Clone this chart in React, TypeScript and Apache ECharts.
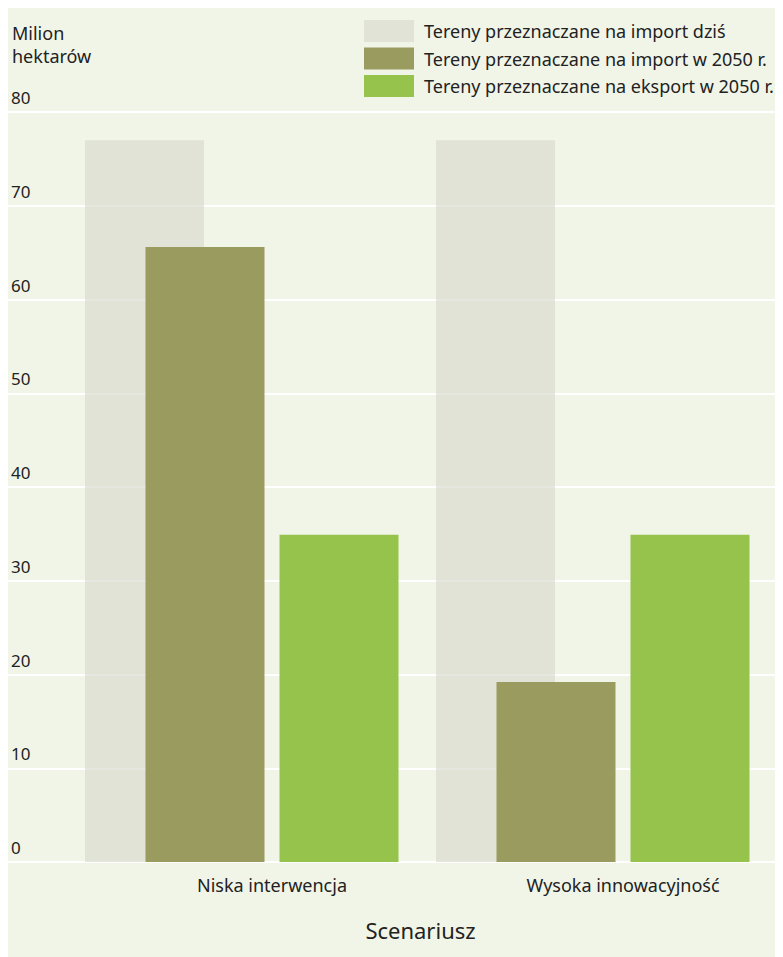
import React, { useEffect, useRef } from "react";
import * as echarts from "echarts";

const categories = ["Niska interwencja", "Wysoka innowacyjność"];
const seriesNames = [
  "Tereny przeznaczane na import dziś",
  "Tereny przeznaczane na import w 2050 r.",
  "Tereny przeznaczane na eksport w 2050 r.",
];
const importToday = [77, 77];
const import2050 = [65.6, 19.2];
const export2050 = [34.9, 34.9];
const yTicks = { min: 0, max: 80, interval: 10 };

const FONT = "Noto Sans";
const TXT = "#222222";
const BAR_W = 119;
const GRAY_SHIFT = 127.5;

export default function App() {
  const ref = useRef<HTMLDivElement>(null);
  useEffect(() => {
    if (!ref.current) return;
    const chart = echarts.init(ref.current, undefined, { renderer: "svg" });
    chart.setOption({
      animation: false,
      backgroundColor: "#f1f5e8",
      textStyle: { fontFamily: FONT, color: TXT },
      legend: {
        data: seriesNames,
        orient: "vertical",
        left: 356,
        top: 12,
        padding: 0,
        itemWidth: 50,
        itemHeight: 22,
        itemGap: 5.5,
        icon: "rect",
        textStyle: { fontSize: 18, color: TXT, fontFamily: FONT, padding: [0, 0, 0, 5] },
      },
      graphic: [
        {
          type: "text",
          left: 4,
          top: 13,
          style: {
            text: "Milion\nhektarów",
            fontSize: 18,
            lineHeight: 23,
            fill: TXT,
            fontFamily: FONT,
          },
        },
        {
          type: "text",
          x: 412.5,
          y: 922,
          style: {
            text: "Scenariusz",
            fontSize: 22,
            fill: TXT,
            fontFamily: FONT,
            align: "center",
            verticalAlign: "middle",
          },
        },
      ],
      grid: [
        { left: 0, right: 25, top: 104, bottom: 95 },
        { left: 88.5, width: 702, top: 104, bottom: 95 },
      ],
      xAxis: [
        { gridIndex: 0, type: "value", show: false },
        {
          gridIndex: 1,
          type: "category",
          data: categories,
          axisLine: { show: false },
          axisTick: { show: false },
          axisLabel: { fontSize: 18, color: TXT, fontFamily: FONT, margin: 14 },
        },
      ],
      yAxis: [
        {
          gridIndex: 0,
          type: "value",
          min: yTicks.min,
          max: yTicks.max,
          interval: yTicks.interval,
          axisLine: { show: false },
          axisTick: { show: false },
          splitLine: { lineStyle: { color: "#ffffff", width: 2 } },
          axisLabel: {
            inside: true,
            align: "left",
            verticalAlign: "bottom",
            margin: 3,
            padding: [0, 0, 6, 0],
            fontSize: 17,
            color: TXT,
            fontFamily: FONT,
          },
        },
        {
          gridIndex: 1,
          type: "value",
          min: yTicks.min,
          max: yTicks.max,
          interval: yTicks.interval,
          show: false,
          splitLine: { show: false },
        },
      ],
      series: [
        {
          name: seriesNames[0],
          type: "custom",
          xAxisIndex: 1,
          yAxisIndex: 1,
          data: importToday.map((v, i) => [i, v]),
          z: 1,
          itemStyle: { color: "rgba(213,215,202,0.6)" },
          renderItem: (params: any, api: any) => {
            const top = api.coord([api.value(0), api.value(1)]);
            const base = api.coord([api.value(0), 0]);
            return {
              type: "rect",
              shape: {
                x: top[0] - GRAY_SHIFT - BAR_W / 2,
                y: top[1],
                width: BAR_W,
                height: base[1] - top[1],
              },
              style: { fill: "rgba(213,215,202,0.6)" },
            };
          },
        },
        {
          name: seriesNames[1],
          type: "bar",
          xAxisIndex: 1,
          yAxisIndex: 1,
          data: import2050,
          barWidth: BAR_W,
          barGap: "12.6%",
          z: 3,
          itemStyle: { color: "#999c5e" },
        },
        {
          name: seriesNames[2],
          type: "bar",
          xAxisIndex: 1,
          yAxisIndex: 1,
          data: export2050,
          barWidth: BAR_W,
          barGap: "12.6%",
          z: 3,
          itemStyle: { color: "#96c34b" },
        },
      ],
    });
    return () => chart.dispose();
  }, []);
  return (
    <div style={{ width: 775, height: 949, overflow: "hidden" }}>
      <div ref={ref} style={{ width: 800, height: 949 }} />
    </div>
  );
}
